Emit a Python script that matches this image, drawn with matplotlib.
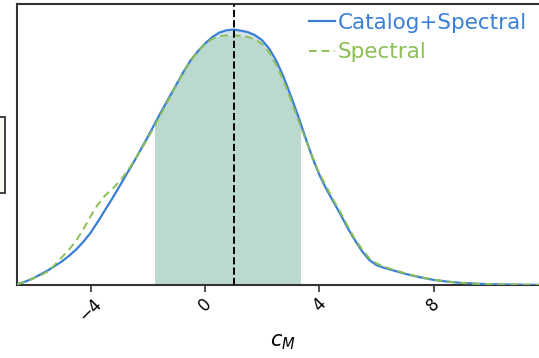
import matplotlib
matplotlib.use("Agg")
import matplotlib.pyplot as plt
from matplotlib.patches import Rectangle

# Posterior density of c_M (normalised to peak = 1)
c_grid = [-6.57, -6.25, -6.0, -5.75, -5.5, -5.25, -5.0, -4.75, -4.5, -4.25,
          -4.0, -3.75, -3.5, -3.25, -3.0, -2.75, -2.5, -2.25, -2.0, -1.75,
          -1.5, -1.25, -1.0, -0.75, -0.5, -0.25, 0.0, 0.25, 0.5, 0.75, 1.0,
          1.25, 1.5, 1.75, 2.0, 2.25, 2.5, 2.75, 3.0, 3.25, 3.5, 3.75, 4.0,
          4.25, 4.5, 4.75, 5.0, 5.25, 5.5, 5.75, 6.0, 6.25, 6.5, 7.0, 7.5,
          8.0, 8.5, 9.0, 9.5, 10.0, 11.0, 12.0]
dens_catalog_spectral = [0.003, 0.015, 0.027, 0.042, 0.057, 0.075, 0.093,
                         0.115, 0.14, 0.17, 0.205, 0.248, 0.293, 0.338,
                         0.385, 0.433, 0.48, 0.53, 0.58, 0.633, 0.685,
                         0.735, 0.785, 0.835, 0.88, 0.915, 0.945, 0.97,
                         0.988, 0.997, 1.0, 0.996, 0.99, 0.978, 0.958,
                         0.925, 0.877, 0.815, 0.742, 0.665, 0.582, 0.502,
                         0.432, 0.375, 0.325, 0.275, 0.222, 0.175, 0.132,
                         0.098, 0.078, 0.068, 0.06, 0.044, 0.031, 0.02,
                         0.013, 0.008, 0.005, 0.003, 0.001, 0.0]
dens_spectral = [0.003, 0.014, 0.026, 0.038, 0.053, 0.08, 0.11, 0.14, 0.175,
                 0.22, 0.27, 0.315, 0.35, 0.375, 0.405, 0.44, 0.483, 0.528,
                 0.575, 0.625, 0.678, 0.73, 0.783, 0.833, 0.878, 0.915,
                 0.943, 0.963, 0.974, 0.977, 0.977, 0.975, 0.971, 0.962,
                 0.943, 0.91, 0.86, 0.8, 0.727, 0.65, 0.575, 0.505, 0.437,
                 0.385, 0.332, 0.283, 0.23, 0.18, 0.14, 0.105, 0.085,
                 0.072, 0.063, 0.046, 0.032, 0.021, 0.013, 0.008, 0.005,
                 0.003, 0.001, 0.0]

median = 1.0
ci_low, ci_high = -1.75, 3.32
xticks = [-4, 0, 4, 8]

blue = "#3a7fd5"
green = "#8cbf55"

fig = plt.figure(figsize=(5.39, 3.58), dpi=100)
ax = fig.add_axes([17.3 / 539, 1 - 285 / 358, 530.5 / 539, 281 / 358])

# credible-interval shading under each curve
clip = Rectangle((ci_low, 0), ci_high - ci_low, 2, transform=ax.transData)
f1 = ax.fill_between(c_grid, 0, dens_catalog_spectral, color="#d2e3ec",
                     lw=0, zorder=1)
f2 = ax.fill_between(c_grid, 0, dens_spectral, color="#bcd9cf", lw=0,
                     zorder=1)
f1.set_clip_path(clip)
f2.set_clip_path(clip)

ax.plot(c_grid, dens_catalog_spectral, color=blue, lw=1.6, zorder=3,
        label="Catalog+Spectral")
ax.plot(c_grid, dens_spectral, color=green, lw=1.4, ls="--", zorder=3,
        dashes=(4, 2.5), label="Spectral")
ax.axvline(median, color="black", ls="--", lw=1.4, zorder=4)

ax.set_xlim(-6.57, 12.0)
ax.set_ylim(0, 1.10)
ax.set_yticks([])
ax.set_xticks(xticks)
ax.set_xticklabels([str(t).replace("-", "\u2212") for t in xticks],
                   rotation=45, fontsize=12)
ax.tick_params(axis="x", direction="out", length=5, width=1.2,
               color="#333333", pad=2)
for s in ax.spines.values():
    s.set_color("#333333")
    s.set_linewidth(1.5)

ax.set_xlabel("$c_M$", fontsize=15, labelpad=5)

leg = ax.legend(loc="upper left", bbox_to_anchor=(283 / 530.5, 1.0),
                frameon=False, fontsize=15.5, handlelength=1.2,
                handletextpad=0.15, labelspacing=0.45, borderaxespad=0)
for txt, col in zip(leg.get_texts(), [blue, green]):
    txt.set_color(col)

# edge of the neighbouring panel box
fig.patches.append(Rectangle((-0.02, 1 - 193 / 358), 0.02 + 5 / 539,
                             76 / 358, transform=fig.transFigure,
                             facecolor="#fbf8f0", edgecolor="#333333",
                             lw=1.3))

fig.savefig("out.png", dpi=100)
